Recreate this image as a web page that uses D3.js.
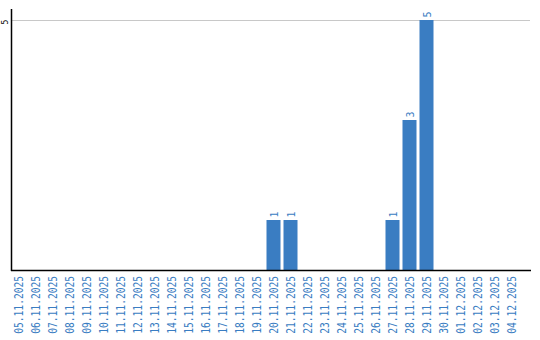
<!DOCTYPE html>
<html>
<head>
<meta charset="utf-8">
<script src="https://cdn.jsdelivr.net/npm/d3@7"></script>
<style>
  body { margin: 0; background: #fff; overflow: hidden; }
  svg { display: block; }
</style>
</head>
<body>
<div id="chart"></div>
<script>
// categorias (fechas) y valores
const dates = ["05.11.2025", "06.11.2025", "07.11.2025", "08.11.2025", "09.11.2025", "10.11.2025",
    "11.11.2025", "12.11.2025", "13.11.2025", "14.11.2025", "15.11.2025", "16.11.2025",
    "17.11.2025", "18.11.2025", "19.11.2025", "20.11.2025", "21.11.2025", "22.11.2025",
    "23.11.2025", "24.11.2025", "25.11.2025", "26.11.2025", "27.11.2025", "28.11.2025",
    "29.11.2025", "30.11.2025", "01.12.2025", "02.12.2025", "03.12.2025", "04.12.2025"];
const counts = [0, 0, 0, 0, 0, 0, 0, 0, 0, 0, 0, 0, 0, 0, 0, 1, 1, 0, 0, 0, 0, 0, 1, 3, 5, 0, 0, 0, 0, 0];
const yTicks = [5];

const width = 540;
const height = 340;
const margin = { top: 8, right: 10, bottom: 70, left: 11 };
const innerWidth = width - margin.left - margin.right;
const innerHeight = 270 - margin.top;
const blue = "#3a7dc2";

const data = dates.map((d, i) => ({ date: d, value: counts[i] }));

const svg = d3.select("#chart").append("svg")
    .attr("width", width)
    .attr("height", height)
    .append("g")
    .attr("transform", `translate(${margin.left}, ${margin.top})`);

const x = d3.scaleBand()
    .domain(dates)
    .range([-1, 509])
    .paddingInner(3 / 17)
    .paddingOuter(3 / 34);

const y = d3.scaleLinear()
    .domain([0, 5])
    .range([innerHeight, 12]);

// gridline
svg.selectAll(".grid")
    .data(yTicks)
    .enter().append("line")
    .attr("x1", 0)
    .attr("x2", innerWidth)
    .attr("y1", d => y(d) + 0.5)
    .attr("y2", d => y(d) + 0.5)
    .attr("stroke", "#c8c8c8")
    .attr("stroke-width", 1);

// barras
svg.selectAll(".bar")
    .data(data.filter(d => d.value > 0))
    .enter().append("rect")
    .attr("class", "bar")
    .attr("x", d => x(d.date))
    .attr("y", d => y(d.value))
    .attr("width", x.bandwidth())
    .attr("height", d => innerHeight - y(d.value))
    .attr("fill", blue);

// etiquetas de valores
svg.selectAll(".val")
    .data(data.filter(d => d.value > 0))
    .enter().append("text")
    .attr("transform", d => `translate(${x(d.date) + x.bandwidth() / 2 + 4}, ${y(d.value) - 2.5}) rotate(-90)`)
    .attr("font-family", "DejaVu Sans Mono")
    .attr("font-size", "10px")
    .attr("fill", blue)
    .text(d => d.value);

// eje x
const xAxis = svg.append("g")
    .attr("transform", `translate(0, ${innerHeight})`)
    .call(d3.axisBottom(x).tickSize(0).tickPadding(0));
xAxis.select(".domain").remove();
xAxis.selectAll("text")
    .attr("font-family", "DejaVu Sans Mono")
    .attr("font-size", "9.6px")
    .attr("fill", blue)
    .attr("text-anchor", "end")
    .attr("dy", null)
    .attr("y", 0)
    .attr("transform", "translate(4.5, 6) rotate(-90) scale(1, 1.2)");

svg.append("line")
    .attr("x1", 0)
    .attr("x2", innerWidth + 1)
    .attr("y1", innerHeight + 0.5)
    .attr("y2", innerHeight + 0.5)
    .attr("stroke", "#000")
    .attr("stroke-width", 1.5);

// eje y
svg.append("line")
    .attr("x1", 0.5)
    .attr("x2", 0.5)
    .attr("y1", 1)
    .attr("y2", innerHeight + 1)
    .attr("stroke", "#000")
    .attr("stroke-width", 1.5);

svg.selectAll(".ytick")
    .data(yTicks)
    .enter().append("text")
    .attr("transform", d => `translate(-3.5, ${y(d) + 2}) rotate(-90)`)
    .attr("text-anchor", "middle")
    .attr("font-family", "DejaVu Sans Mono")
    .attr("font-size", "8px")
    .attr("fill", "#000")
    .text(d => d);
</script>
</body>
</html>
